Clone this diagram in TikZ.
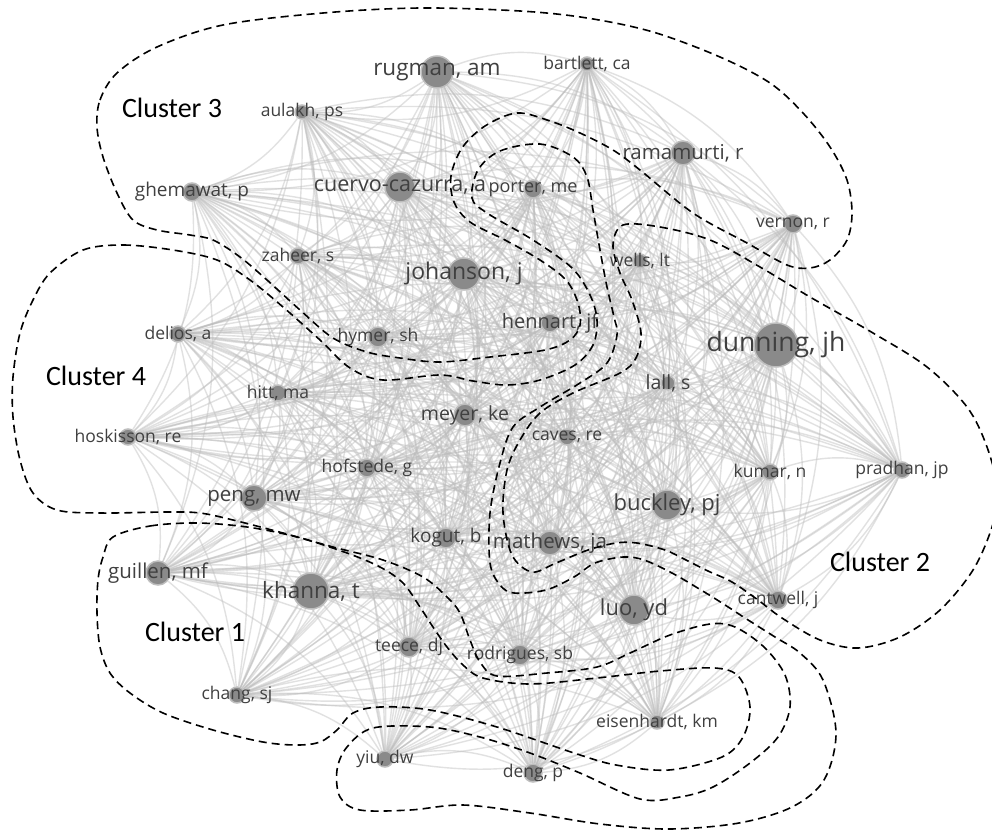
\documentclass[tikz,border=0pt]{standalone}
\usepackage{fontspec}
\setmainfont{Open Sans}
\newfontfamily\calibri{Carlito}
\usetikzlibrary{backgrounds}

\tikzset{
  au/.style={circle, fill=black!46, draw=black!26, line width=1.5pt, inner sep=0pt, minimum size=#1pt},
  lb/.style={font=\fontsize{#1}{#1}\selectfont, text=black!75, inner sep=0pt},
  link/.style={draw=black!26, line width=1.4pt, opacity=0.45},
  hull/.style={dash pattern=on 8pt off 5pt, line width=1.6pt},
  clab/.style={font=\calibri\fontsize{28}{28}\selectfont}
}

\def\people{rugman,bartlett,aulakh,ramamurti,ghemawat,cuervo,porter,vernon,zaheer,johanson,wells,hennart,delios,hymer,dunning,hitt,lall,meyer,hoskisson,caves,hofstede,kumar,pradhan,peng,buckley,kogut,mathews,guillen,khanna,cantwell,luo,teece,rodrigues,chang,eisenhardt,yiu,deng}

\begin{document}
\begin{tikzpicture}[x=1pt, y=-1pt]
            \useasboundingbox (0,0) rectangle (992,830);

            \node[au=32, label={[lb=22.5]center:rugman, am}] (rugman) at (437,72) {};
            \node[au=14, label={[lb=17.5]center:bartlett, ca}] (bartlett) at (587,64) {};
            \node[au=14, label={[lb=17.5]center:aulakh, ps}] (aulakh) at (302,112) {};
            \node[au=24, label={[lb=20.5]center:ramamurti, r}] (ramamurti) at (683,153) {};
            \node[au=18, label={[lb=19]center:ghemawat, p}] (ghemawat) at (192,192) {};
            \node[au=18, label={[lb=18]center:porter, me}] (porter) at (533,189) {};
            \node[au=30, label={[lb=21.5]center:cuervo-cazurra, a}] (cuervo) at (400,187) {};
            \node[au=18, label={[lb=17.5]center:vernon, r}] (vernon) at (793,224) {};
            \node[au=16, label={[lb=17.5]center:zaheer, s}] (zaheer) at (298,256) {};
            \node[au=32, label={[lb=23]center:johanson, j}] (johanson) at (464,274) {};
            \node[au=14, label={[lb=17.5]center:wells, lt}] (wells) at (640,261) {};
            \node[au=18, label={[lb=20]center:hennart, jf}] (hennart) at (550,323) {};
            \node[au=16, label={[lb=17.5]center:delios, a}] (delios) at (178,334) {};
            \node[au=20, label={[lb=17.5]center:hymer, sh}] (hymer) at (378,337) {};
            \node[au=44, label={[lb=26.5]center:dunning, jh}] (dunning) at (776,345) {};
            \node[au=16, label={[lb=17.5]center:hitt, ma}] (hitt) at (278,393) {};
            \node[au=14, label={[lb=19.5]center:lall, s}] (lall) at (668,383) {};
            \node[au=22, label={[lb=19.5]center:meyer, ke}] (meyer) at (465,415) {};
            \node[au=16, label={[lb=17.5]center:hoskisson, re}] (hoskisson) at (128,437) {};
            \node[au=16, label={[lb=17.5]center:caves, re}] (caves) at (567,437) {};
            \node[au=18, label={[lb=17.5]center:hofstede, g}] (hofstede) at (367,468) {};
            \node[au=16, label={[lb=17.5]center:kumar, n}] (kumar) at (770,472) {};
            \node[au=16, label={[lb=17.5]center:pradhan, jp}] (pradhan) at (902,470) {};
            \node[au=26, label={[lb=20.5]center:peng, mw}] (peng) at (254,498) {};
            \node[au=30, label={[lb=22]center:buckley, pj}] (buckley) at (667,505) {};
            \node[au=20, label={[lb=19]center:kogut, b}] (kogut) at (446,538) {};
            \node[au=24, label={[lb=20.5]center:mathews, ja}] (mathews) at (550,543) {};
            \node[au=24, label={[lb=20.5]center:guillen, mf}] (guillen) at (158,573) {};
            \node[au=36, label={[lb=22.5]center:khanna, t}] (khanna) at (311,591) {};
            \node[au=18, label={[lb=17.5]center:cantwell, j}] (cantwell) at (778,600) {};
            \node[au=30, label={[lb=22]center:luo, yd}] (luo) at (634,610) {};
            \node[au=20, label={[lb=17.5]center:teece, dj}] (teece) at (409,647) {};
            \node[au=20, label={[lb=17.5]center:rodrigues, sb}] (rodrigues) at (520,655) {};
            \node[au=16, label={[lb=17.5]center:chang, sj}] (chang) at (237,695) {};
            \node[au=14, label={[lb=17.5]center:eisenhardt, km}] (eisenhardt) at (657,722) {};
            \node[au=16, label={[lb=17.5]center:yiu, dw}] (yiu) at (385,759) {};
            \node[au=18, label={[lb=17.5]center:deng, p}] (deng) at (533,773) {};

            \begin{scope}[on background layer]
            \fill[white] (0,0) rectangle (992,830);
            \foreach \a [count=\i] in \people {
              \foreach \b [count=\j] in \people {
                \ifnum\j>\i \draw[link] (\a) to[bend left=18] (\b); \fi
              }
            }
            \end{scope}

            \draw[hull] plot[smooth cycle, tension=0.55] coordinates {(97,127) (100,100) (117,73) (157,47) (223,25) (323,13) (420,8) (520,11) (587,18) (653,32) (720,57) (770,83) (803,113) (830,147) (847,180) (852,213) (847,240) (830,260) (810,268) (787,265) (747,243) (693,213) (640,170) (613,150) (580,133) (550,121) (517,113) (485,126) (462,148) (451,176) (454,202) (470,222) (505,240) (540,260) (566,280) (578,303) (580,325) (570,340) (545,350) (490,357) (440,362) (400,358) (367,352) (333,338) (300,310) (267,280) (240,257) (213,240) (190,235) (157,230) (133,220) (117,193) (103,157)};

            \draw[hull] plot[smooth cycle, tension=0.55] coordinates {(83,250) (123,245) (173,250) (217,260) (250,280) (283,307) (320,340) (350,368) (383,380) (440,375) (473,381) (507,385) (540,380) (575,365) (593,345) (597,320) (590,295) (572,268) (533,240) (487,213) (472,198) (478,170) (500,151) (540,144) (573,157) (587,177) (593,210) (600,250) (607,287) (614,317) (617,335) (607,363) (580,383) (540,407) (513,427) (500,463) (490,513) (490,563) (500,585) (514,593) (546,590) (574,577) (595,563) (623,557) (644,560) (672,573) (701,590) (722,603) (745,618) (775,637) (800,653) (823,680) (836,733) (824,780) (792,807) (739,823) (669,829) (600,824) (530,813) (463,805) (410,810) (360,810) (340,797) (337,770) (347,747) (373,728) (430,727) (480,737) (530,753) (580,773) (640,799) (680,797) (713,787) (750,763) (778,737) (790,707) (785,675) (764,647) (735,627) (710,624) (670,635) (630,653) (597,667) (547,673) (497,676) (480,662) (470,640) (460,613) (447,597) (423,577) (383,560) (333,547) (283,533) (233,520) (200,513) (167,512) (100,513) (57,510) (33,493) (20,460) (13,417) (13,377) (20,333) (33,300) (50,273)};

            \draw[hull] plot[smooth cycle, tension=0.55] coordinates {(113,537) (150,526) (197,523) (247,527) (297,537) (347,553) (380,567) (403,583) (420,607) (433,627) (447,647) (463,665) (483,678) (530,684) (597,678) (660,671) (715,668) (739,677) (750,707) (743,737) (722,757) (669,770) (616,765) (574,753) (497,727) (430,710) (380,707) (353,713) (337,730) (320,742) (297,745) (263,742) (213,730) (163,713) (130,693) (110,673) (100,647) (97,613) (98,580) (103,557)};

            \draw[hull] plot[smooth cycle, tension=0.55] coordinates {(623,225) (660,227) (710,240) (760,267) (810,297) (873,333) (927,367) (967,407) (987,447) (998,492) (992,527) (973,570) (940,610) (900,637) (858,648) (820,640) (782,618) (758,600) (732,582) (708,571) (686,560) (665,550) (637,543) (616,543) (588,550) (556,563) (532,572) (512,555) (503,513) (507,470) (520,440) (540,413) (573,393) (620,373) (636,358) (641,333) (632,300) (620,273) (613,245)};

            \node[clab] (c3) at (172,108) {Cluster 3};
            \node[clab] (c4) at (96,376) {Cluster 4};
            \node[clab] (c1) at (195,632) {Cluster 1};
            \node[clab] (c2) at (880,562) {Cluster 2};
\end{tikzpicture}
\end{document}
